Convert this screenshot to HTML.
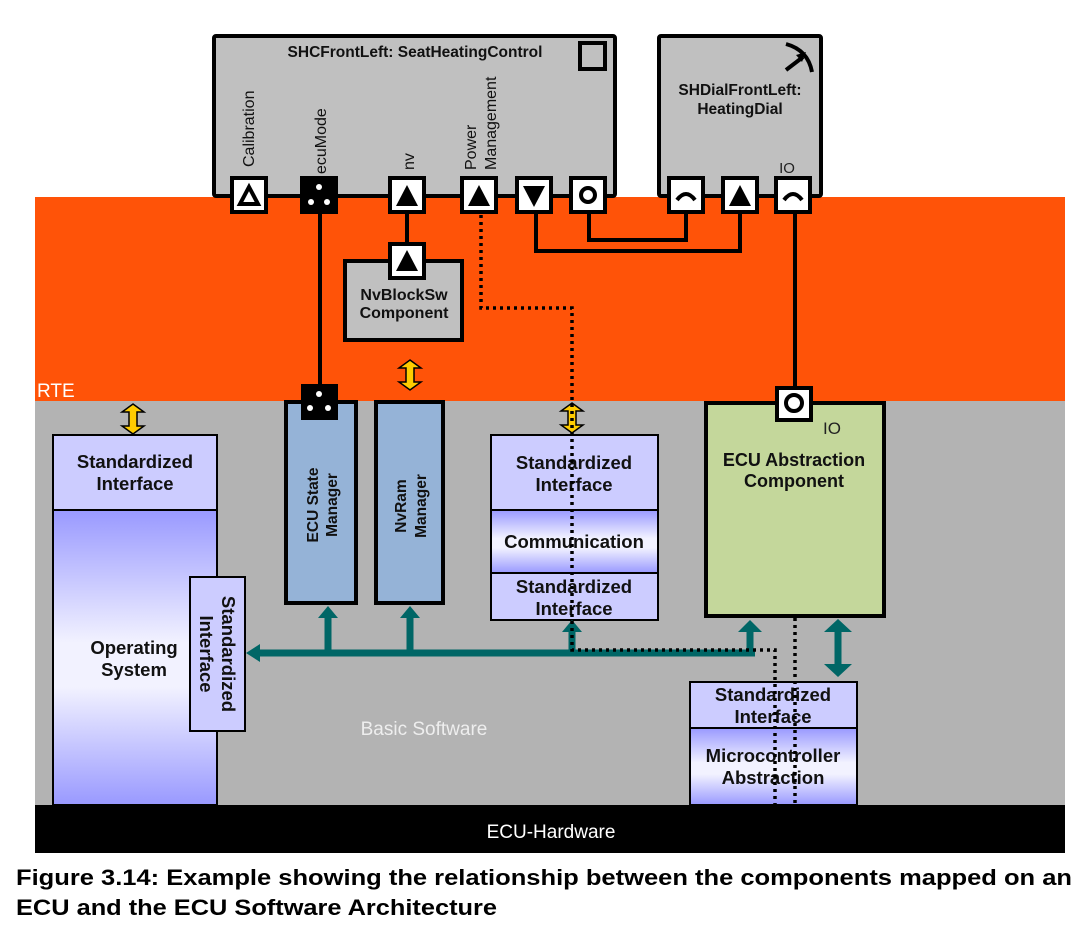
<!DOCTYPE html>
<html><head><meta charset="utf-8"><style>
body{margin:0;background:#fff;width:1087px;height:930px;overflow:hidden}
svg text{font-family:"Liberation Sans",Arial,sans-serif}
.b{font-weight:bold;fill:#111}
</style></head><body>
<svg width="1087" height="930" viewBox="0 0 1087 930" xmlns="http://www.w3.org/2000/svg">
<defs>
<linearGradient id="g1" x1="0" y1="0" x2="0" y2="1">
<stop offset="0" stop-color="#9999ff"/><stop offset="0.45" stop-color="#f2f2ff"/><stop offset="0.6" stop-color="#f2f2ff"/><stop offset="1" stop-color="#9999ff"/></linearGradient>
</defs>
<rect x="35" y="197" width="1030" height="204" fill="#ff5308"/>
<rect x="35" y="401" width="1030" height="404" fill="#b3b3b3"/>
<rect x="35" y="805" width="1030" height="48" fill="#000"/>
<text x="37" y="397" font-size="19" fill="#fff">RTE</text>
<text x="424" y="735" font-size="19" fill="#eee" text-anchor="middle">Basic Software</text>
<text x="551" y="838" font-size="19" fill="#fff" text-anchor="middle">ECU-Hardware</text>

<g stroke="#000" stroke-width="4" fill="none">
<line x1="320" y1="213" x2="320" y2="385"/>
<line x1="407" y1="213" x2="407" y2="244"/>
<polyline points="536,213 536,251 740,251 740,213"/>
<polyline points="589,213 589,240 686,240 686,213"/>
<line x1="795" y1="213" x2="795" y2="390"/>
</g>

<rect x="214" y="36" width="401" height="160" fill="#c0c0c0" stroke="#000" stroke-width="4" rx="2"/>
<text x="415" y="57" font-size="15.5" class="b" text-anchor="middle">SHCFrontLeft:  SeatHeatingControl</text>
<rect x="580" y="43" width="25" height="26" fill="none" stroke="#000" stroke-width="4"/>
<g font-size="16" fill="#111">
<text transform="translate(254,167) rotate(-90)">Calibration</text>
<text transform="translate(326,174) rotate(-90)">ecuMode</text>
<text transform="translate(414,170) rotate(-90)">nv</text>
<text transform="translate(476,170) rotate(-90)">Power</text>
<text transform="translate(496,170) rotate(-90)">Management</text>
</g>
<rect x="659" y="36" width="162" height="160" fill="#c0c0c0" stroke="#000" stroke-width="4" rx="2"/>
<path d="M786,44 Q808,50 812,72" stroke="#000" stroke-width="4" fill="none"/>
<line x1="786" y1="70" x2="803" y2="57" stroke="#000" stroke-width="4"/>
<path d="M806,52 L796,55 L802,62 z" fill="#000"/>
<text x="740" y="95" font-size="15.5" class="b" text-anchor="middle">SHDialFrontLeft:</text>
<text x="740" y="114" font-size="15.5" class="b" text-anchor="middle">HeatingDial</text>
<text x="787" y="173" font-size="15" fill="#222" text-anchor="middle">IO</text>

<g stroke="#000" stroke-width="4" fill="#fff">
<rect x="232" y="178" width="34" height="34"/>
<rect x="302" y="178" width="34" height="34" fill="#000"/>
<rect x="390" y="178" width="34" height="34"/>
<rect x="462" y="178" width="34" height="34"/>
<rect x="517" y="178" width="34" height="34"/>
<rect x="571" y="178" width="34" height="34"/>
<rect x="669" y="178" width="34" height="34"/>
<rect x="723" y="178" width="34" height="34"/>
<rect x="776" y="178" width="34" height="34"/>
</g>
<path d="M249,187 L258,204 L240,204 z" fill="none" stroke="#000" stroke-width="4"/>
<g fill="#fff"><circle cx="319" cy="187" r="3"/><circle cx="311" cy="202" r="3"/><circle cx="327" cy="202" r="3"/></g>
<path d="M407,185 L418,206 L396,206 z" fill="#000"/>
<path d="M479,185 L490,206 L468,206 z" fill="#000"/>
<path d="M523,186 L545,186 L534,207 z" fill="#000"/>
<circle cx="588" cy="195" r="7" fill="none" stroke="#000" stroke-width="4"/>
<path d="M677,200 Q686,188 695,200" fill="none" stroke="#000" stroke-width="4"/>
<path d="M740,185 L751,206 L729,206 z" fill="#000"/>
<path d="M784,200 Q793,188 802,200" fill="none" stroke="#000" stroke-width="4"/>

<rect x="345" y="261" width="117" height="79" fill="#c0c0c0" stroke="#000" stroke-width="4"/>
<rect x="390" y="244" width="34" height="34" fill="#fff" stroke="#000" stroke-width="4"/>
<path d="M407,250 L418,271 L396,271 z" fill="#000"/>
<text x="404" y="300" font-size="16" class="b" text-anchor="middle">NvBlockSw</text>
<text x="404" y="318" font-size="16" class="b" text-anchor="middle">Component</text>

<g fill="#ffcc00" stroke="#000" stroke-width="1.5">
<path d="M133,404 L144,412 L137,412 L137,426 L144,426 L133,434 L122,426 L129,426 L129,412 L122,412 z"/>
<path d="M410,360 L421,368 L414,368 L414,382 L421,382 L410,390 L399,382 L406,382 L406,368 L399,368 z"/>
<path d="M572,403 L583,411 L576,411 L576,425 L583,425 L572,433 L561,425 L568,425 L568,411 L561,411 z"/>
</g>

<rect x="53" y="510" width="164" height="295" fill="url(#g1)" stroke="#000" stroke-width="2"/>
<rect x="53" y="435" width="164" height="75" fill="#ccccff" stroke="#000" stroke-width="2"/>
<text x="135" y="468" font-size="18.5" class="b" text-anchor="middle">Standardized</text>
<text x="135" y="490" font-size="18.5" class="b" text-anchor="middle">Interface</text>
<text x="134" y="654" font-size="18.5" class="b" text-anchor="middle">Operating</text>
<text x="134" y="676" font-size="18.5" class="b" text-anchor="middle">System</text>
<rect x="190" y="577" width="55" height="154" fill="#ccccff" stroke="#000" stroke-width="2"/>
<text transform="translate(222,654) rotate(90)" font-size="18.5" class="b" text-anchor="middle">Standardized</text>
<text transform="translate(200,654) rotate(90)" font-size="18.5" class="b" text-anchor="middle">Interface</text>

<rect x="286" y="402" width="70" height="201" fill="#95b3d7" stroke="#000" stroke-width="4"/>
<rect x="301" y="384" width="37" height="36" fill="#000"/>
<g fill="#fff"><circle cx="319" cy="394" r="3"/><circle cx="310" cy="408" r="3"/><circle cx="328" cy="408" r="3"/></g>
<text transform="translate(318,505) rotate(-90)" font-size="15.5" class="b" text-anchor="middle">ECU State</text>
<text transform="translate(337,505) rotate(-90)" font-size="15.5" class="b" text-anchor="middle">Manager</text>
<rect x="376" y="402" width="67" height="201" fill="#95b3d7" stroke="#000" stroke-width="4"/>
<text transform="translate(406,506) rotate(-90)" font-size="15.5" class="b" text-anchor="middle">NvRam</text>
<text transform="translate(426,506) rotate(-90)" font-size="15.5" class="b" text-anchor="middle">Manager</text>

<rect x="491" y="435" width="167" height="75" fill="#ccccff" stroke="#000" stroke-width="2"/>
<rect x="491" y="510" width="167" height="63" fill="url(#g1)" stroke="#000" stroke-width="2"/>
<rect x="491" y="573" width="167" height="47" fill="#ccccff" stroke="#000" stroke-width="2"/>
<text x="574" y="469" font-size="18.5" class="b" text-anchor="middle">Standardized</text>
<text x="574" y="491" font-size="18.5" class="b" text-anchor="middle">Interface</text>
<text x="574" y="548" font-size="18.5" class="b" text-anchor="middle">Communication</text>
<text x="574" y="593" font-size="18.5" class="b" text-anchor="middle">Standardized</text>
<text x="574" y="615" font-size="18.5" class="b" text-anchor="middle">Interface</text>

<rect x="706" y="403" width="178" height="213" fill="#c4d79b" stroke="#000" stroke-width="4"/>
<rect x="777" y="388" width="34" height="32" fill="#fff" stroke="#000" stroke-width="4"/>
<circle cx="794" cy="403" r="8" fill="none" stroke="#000" stroke-width="4"/>
<text x="832" y="434" font-size="17" fill="#222" text-anchor="middle">IO</text>
<text x="794" y="466" font-size="18" class="b" text-anchor="middle">ECU Abstraction</text>
<text x="794" y="487" font-size="18" class="b" text-anchor="middle">Component</text>

<rect x="690" y="682" width="167" height="46" fill="#ccccff" stroke="#000" stroke-width="2"/>
<rect x="690" y="728" width="167" height="77" fill="url(#g1)" stroke="#000" stroke-width="2"/>
<text x="773" y="701" font-size="18.5" class="b" text-anchor="middle">Standardized</text>
<text x="773" y="723" font-size="18.5" class="b" text-anchor="middle">Interface</text>
<text x="773" y="762" font-size="18.5" class="b" text-anchor="middle">Microcontroller</text>
<text x="773" y="784" font-size="18.5" class="b" text-anchor="middle">Abstraction</text>

<g stroke="#006666" stroke-width="7" fill="#006666">
<line x1="256" y1="653" x2="755" y2="653"/>
<line x1="328" y1="653" x2="328" y2="618"/>
<line x1="410" y1="653" x2="410" y2="618"/>
<line x1="572" y1="653" x2="572" y2="632"/>
<line x1="750" y1="653" x2="750" y2="632"/>
<line x1="838" y1="632" x2="838" y2="664"/>
</g>
<g fill="#006666">
<path d="M246,653 L260,644 L260,662 z"/>
<path d="M328,606 L338,618 L318,618 z"/>
<path d="M410,606 L420,618 L400,618 z"/>
<path d="M572,620 L582,632 L562,632 z"/>
<path d="M750,620 L762,632 L738,632 z"/>
<path d="M838,619 L852,632 L824,632 z"/>
<path d="M838,677 L852,664 L824,664 z"/>
</g>

<g stroke="#000" stroke-width="3.5" stroke-dasharray="3,4" fill="none">
<polyline points="481,215 481,308 572,308 572,650 775,650 775,805"/>
<line x1="795" y1="618" x2="795" y2="805"/>
</g>

<text x="16" y="885" font-size="22" font-weight="bold" fill="#000" textLength="1056" lengthAdjust="spacingAndGlyphs">Figure 3.14: Example showing the relationship between the components mapped on an</text>
<text x="16" y="915" font-size="22" font-weight="bold" fill="#000" textLength="481" lengthAdjust="spacingAndGlyphs">ECU and the ECU Software Architecture</text>
</svg>
</body></html>
